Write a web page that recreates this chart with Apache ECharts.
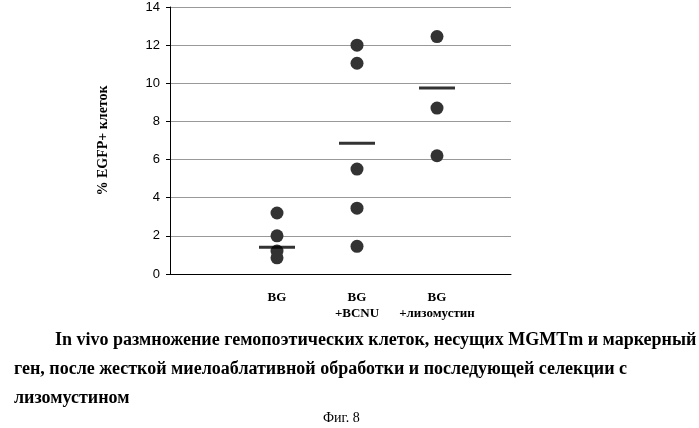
<!DOCTYPE html>
<html><head><meta charset="utf-8">
<script src="https://cdn.jsdelivr.net/npm/echarts@6/dist/echarts.min.js"></script>
<style>html,body{margin:0;background:#fff}#c{width:699px;height:428px}</style>
</head><body><div id="c"></div>
<script>
var groups = ['BG', 'BG\n+BCNU', 'BG\n+лизомустин'];
var groupPos = [1, 2, 3];
var pointsBG = [3.2, 2.0, 1.2, 0.85];
var pointsBCNU = [12.0, 11.05, 5.5, 3.45, 1.45];
var pointsLyso = [12.45, 8.7, 6.2];
var means = [1.4, 6.85, 9.75];

var dots = [];
[pointsBG, pointsBCNU, pointsLyso].forEach(function (arr, i) {
    arr.forEach(function (v) { dots.push([groupPos[i], v]); });
});
var meanData = means.map(function (v, i) { return [groupPos[i], v]; });
var serif = '"Liberation Serif", "DejaVu Serif", serif';

var option = {
    animation: false,
    grid: { left: 170, right: 188, top: 7, bottom: 154 },
    xAxis: {
        type: 'value', min: -0.3375, max: 3.925,
        splitLine: { show: false },
        axisLine: { lineStyle: { color: '#000' } },
        axisTick: { show: false },
        axisLabel: {
            customValues: groupPos,
            formatter: function (v) { return groups[groupPos.indexOf(v)] || ''; },
            color: '#000', fontFamily: serif, fontWeight: 'bold', fontSize: 13, lineHeight: 16, margin: 16
        }
    },
    yAxis: {
        type: 'value', min: 0, max: 14, interval: 2,
        name: '% EGFP+ клеток', nameLocation: 'middle', nameGap: 60,
        nameTextStyle: { color: '#000', fontFamily: serif, fontWeight: 'bold', fontSize: 14 },
        axisLine: { show: true, onZero: false, lineStyle: { color: '#000' } },
        axisTick: { show: true, length: 4, lineStyle: { color: '#000' } },
        axisLabel: { color: '#000', fontFamily: 'Arial, sans-serif', fontSize: 13, margin: 10 },
        splitLine: { lineStyle: { color: '#999' } }
    },
    series: [
        { type: 'scatter', data: dots, symbolSize: 13, itemStyle: { color: '#333', opacity: 1 } },
        { type: 'scatter', data: meanData, symbol: 'rect', symbolSize: [36, 3], itemStyle: { color: '#000' } }
    ],
    graphic: [
        { type: 'text', left: 55, top: 331, style: { text: 'In vivo размножение гемопоэтических клеток, несущих MGMTm и маркерный', font: 'bold 18px ' + serif, fill: '#000' } },
        { type: 'text', left: 14, top: 360, style: { text: 'ген, после жесткой миелоаблативной обработки и последующей селекции с', font: 'bold 18px ' + serif, fill: '#000' } },
        { type: 'text', left: 14, top: 389, style: { text: 'лизомустином', font: 'bold 18px ' + serif, fill: '#000' } },
        { type: 'text', left: 323, top: 411, style: { text: 'Фиг. 8', font: '14px ' + serif, fill: '#000' } }
    ]
};
echarts.init(document.getElementById('c')).setOption(option);
</script></body></html>
